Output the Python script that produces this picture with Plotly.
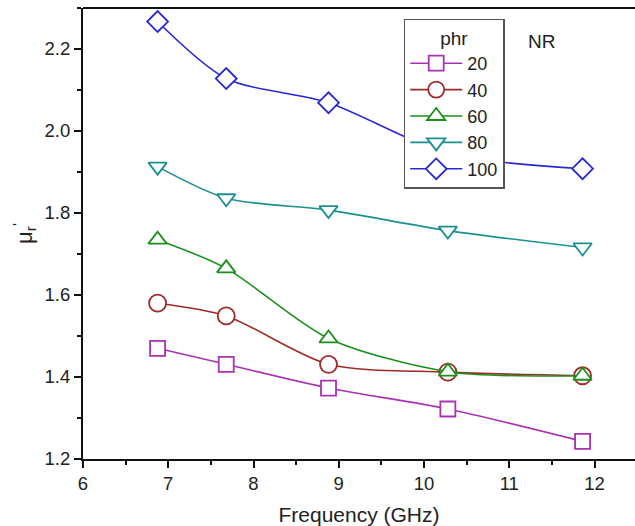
import plotly.graph_objects as go

freq = [6.875, 7.68, 8.88, 10.28, 11.86]
phr_labels = ["20", "40", "60", "80", "100"]
mu_20 = [1.470, 1.431, 1.373, 1.322, 1.243]
mu_40 = [1.580, 1.549, 1.431, 1.412, 1.403]
mu_60 = [1.735, 1.665, 1.494, 1.413, 1.403]
mu_80 = [1.913, 1.836, 1.807, 1.757, 1.716]
mu_100 = [2.267, 2.128, 2.069, 1.945, 1.908]

series = [mu_20, mu_40, mu_60, mu_80, mu_100]
colors = ["#A832B0", "#9E2A2A", "#1A901A", "#1A9090", "#2828D0"]
symbols = ["square", "circle", "triangle-up", "triangle-down", "diamond"]
sizes = [15, 17, 16, 16, 16]

fig = go.Figure()
for lab, ys, c, s, sz in zip(phr_labels, series, colors, symbols, sizes):
    fig.add_trace(go.Scatter(
        x=freq, y=ys, name=lab, mode="lines+markers",
        line=dict(color=c, width=1.6, shape="spline", smoothing=0.8),
        marker=dict(symbol=s, size=sz, color="white", line=dict(color=c, width=1.8)),
    ))

font = "Arial, Liberation Sans, sans-serif"
fig.update_layout(
    width=635, height=526,
    margin=dict(l=83, r=0, t=8, b=67),
    plot_bgcolor="white", paper_bgcolor="white",
    font=dict(family=font, size=18, color="#222"),
    xaxis=dict(
        range=[6, 12.475], tickmode="array", tickvals=[6, 7, 8, 9, 10, 11, 12],
        ticks="outside", ticklen=7, tickwidth=2, tickcolor="#111",
        showline=True, linecolor="#111", linewidth=2, showgrid=False, zeroline=False,
        minor=dict(ticks="outside", ticklen=4, tickwidth=2, tickcolor="#111", dtick=0.5, showgrid=False),
        title=dict(text="Frequency (GHz)", font=dict(size=21), standoff=17),
        tickfont=dict(size=18.5),
    ),
    yaxis=dict(
        range=[1.2, 2.3], tickmode="array", tickvals=[1.2, 1.4, 1.6, 1.8, 2.0, 2.2],
        ticktext=["1.2", "1.4", "1.6", "1.8", "2.0", "2.2"],
        ticks="outside", ticklen=7, tickwidth=2, tickcolor="#111",
        showline=True, linecolor="#111", linewidth=2, showgrid=False, zeroline=False,
        minor=dict(ticks="outside", ticklen=4, tickwidth=2, tickcolor="#111", dtick=0.1, showgrid=False),
        title=dict(text="μ<sub>r</sub><sup>'</sup>", font=dict(size=22), standoff=6),
        tickfont=dict(size=18.5),
    ),
    legend=dict(
        x=0.581, y=0.976, xanchor="left", yanchor="top",
        bordercolor="#555", borderwidth=1.5, bgcolor="white",
        font=dict(size=18), itemwidth=52, traceorder="normal",
        title=dict(text="phr", side="top center", font=dict(size=19)),
    ),
    showlegend=True,
)
fig.add_shape(type="line", xref="paper", yref="paper", x0=0, x1=1, y0=1, y1=1,
              line=dict(color="#111", width=2))
fig.add_annotation(text="NR", xref="paper", yref="paper", x=0.803, y=0.925,
                   xanchor="left", yanchor="middle", showarrow=False, font=dict(size=19))

fig.write_html("out.html")
